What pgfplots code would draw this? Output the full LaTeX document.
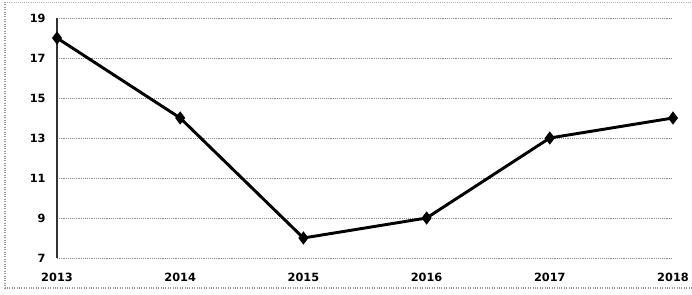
\documentclass[border=0pt]{standalone}
\usepackage{pgfplots}
\pgfplotsset{compat=1.18}
\usepackage{fontspec}
\setmainfont{DejaVu Sans}
\begin{document}
\begin{tikzpicture}
\useasboundingbox (0pt,0pt) rectangle (519pt,221.25pt);
\draw[gray!80, densely dotted, line width=0.8pt] (3.75pt,219.75pt) -- (3.75pt,5.25pt) -- (519pt,5.25pt);
\draw[gray!60, densely dotted, line width=0.6pt] (3.75pt,219.75pt) -- (519pt,219.75pt);
\begin{axis}[
  at={(42.75pt,27.75pt)}, anchor=south west,
  scale only axis, width=462pt, height=180pt,
  xmin=2013, xmax=2018, ymin=7, ymax=19,
  ytick={7,9,11,13,15,17,19},
  xtick={2013,2014,2015,2016,2017,2018},
  major tick length=0pt,
  ymajorgrids,
  grid style={gray!90, densely dotted, line width=0.7pt},
  axis x line=bottom, axis y line=left,
  axis line style={-},
  x axis line style={draw=none},
  y axis line style={black!80, line width=0.9pt},
  clip=false,
  /pgf/number format/assume math mode=true,
  /pgf/number format/1000 sep={},
  ticklabel style={font=\fontsize{8.5}{9}\selectfont\bfseries},
  yticklabel style={xshift=-5pt},
  xticklabel style={yshift=-8pt},
]
\addplot[black, line width=2.2pt, mark=diamond*, mark size=3.2pt] coordinates {
(2013,18) (2014,14) (2015,8) (2016,9) (2017,13) (2018,14)};
\end{axis}
\end{tikzpicture}
\end{document}
